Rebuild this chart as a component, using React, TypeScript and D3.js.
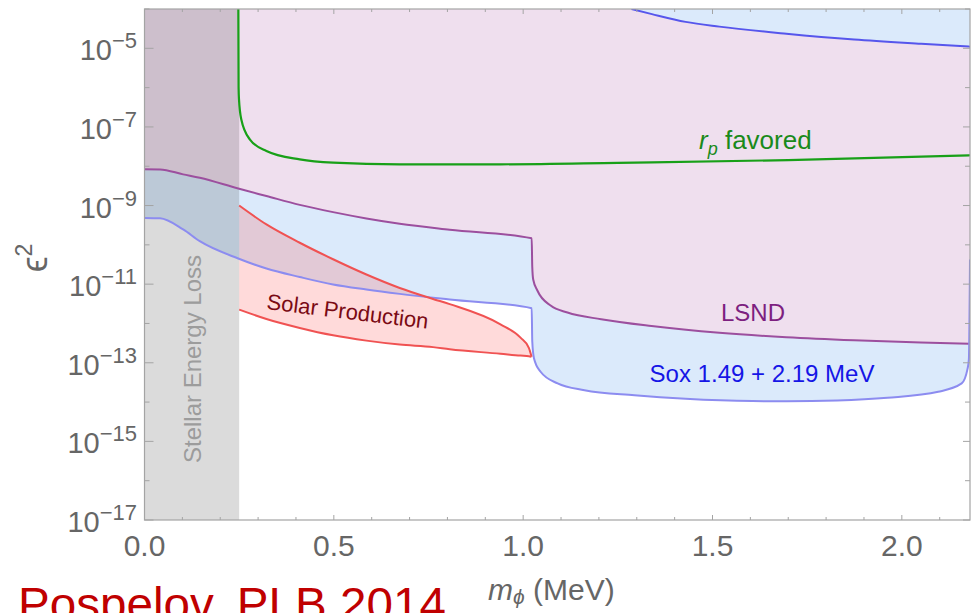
import React from "react";
import * as d3 from "d3";

// ---- data (m in MeV, eps^2) ----
const lsndMass = [0, 0.041, 0.102, 0.146, 0.2475, 0.322, 0.41, 0.498, 0.586, 0.674, 0.806, 1.0225, 1.024, 1.0265, 1.0375, 1.0725, 1.117, 1.206, 1.339, 1.518, 1.695, 1.874, 2.05, 2.18];
const lsndEps2 = [8.35e-9, 8.3e-9, 6.2e-9, 5.1e-9, 2.7e-9, 1.74e-9, 1.04e-9, 6.8e-10, 4.7e-10, 3.45e-10, 2.43e-10, 1.47e-10, 2.75e-11, 1.31e-11, 6.9e-12, 2.85e-12, 1.9e-12, 1.28e-12, 8.6e-13, 5.8e-13, 4.47e-13, 3.74e-13, 3.3e-13, 3.06e-13];

const soxMass = [0, 0.041, 0.102, 0.146, 0.2475, 0.322, 0.41, 0.498, 0.586, 0.674, 0.806, 1.0225, 1.024, 1.0285, 1.046, 1.091, 1.162, 1.294, 1.429, 1.606, 1.695, 1.829, 1.962, 2.096, 2.158, 2.173, 2.177, 2.18];
const soxEps2 = [4.85e-10, 4.75e-10, 2.47e-10, 1.24e-10, 4.5e-11, 2.5e-11, 1.52e-11, 9.8e-12, 7.3e-12, 5.66e-12, 4.06e-12, 2.45e-12, 3.53e-13, 1.31e-13, 5.9e-14, 2.98e-14, 2.0e-14, 1.49e-14, 1.21e-14, 1.06e-14, 1.05e-14, 1.1e-14, 1.29e-14, 1.83e-14, 2.98e-14, 6.7e-14, 1.2e-13, 4.25e-11];

const soxUpperMass = [1.286, 1.34, 1.429, 1.518, 1.695, 1.874, 2.051, 2.18];
const soxUpperEps2 = [1.0e-4, 7.4e-5, 4.7e-5, 3.56e-5, 2.35e-5, 1.67e-5, 1.3e-5, 1.1e-5];

const rpMass = [0.2478, 0.2485, 0.2495, 0.2555, 0.278, 0.322, 0.41, 0.498, 0.674, 0.94, 1.25, 1.7, 2.18];
const rpEps2 = [1.0e-4, 1.0e-6, 5.1e-7, 1.57e-7, 4.85e-8, 2.44e-8, 1.5e-8, 1.24e-8, 1.12e-8, 1.12e-8, 1.22e-8, 1.43e-8, 1.9e-8];

const solarMass = [0.25, 0.322, 0.41, 0.498, 0.586, 0.674, 0.762, 0.806, 0.94, 0.993, 1.015, 1.022];
const solarUpper = [1.0e-9, 3.3e-10, 1.13e-10, 4.3e-11, 1.76e-11, 8.0e-12, 4.2e-12, 3.1e-12, 9.5e-13, 4.35e-13, 2.4e-13, 1.45e-13];
const solarLower = [2.25e-12, 1.3e-12, 7.7e-13, 5.0e-13, 3.66e-13, 2.9e-13, 2.5e-13, 2.2e-13, 1.7e-13, 1.52e-13, 1.47e-13, 1.42e-13];

const stellarLimit = 0.25;

const xMajor = [0, 0.5, 1.0, 1.5, 2.0];
const xMinor = [0.1, 0.2, 0.3, 0.4, 0.6, 0.7, 0.8, 0.9, 1.1, 1.2, 1.3, 1.4, 1.6, 1.7, 1.8, 1.9, 2.1];
const yLabelExp = [-17, -15, -13, -11, -9, -7, -5];
const yMinorExp = [-16, -14, -12, -10, -8, -6, -4];

const W = 976;
const H = 613;
const FONT = "'Liberation Sans', Arial, Helvetica, sans-serif";

const x = d3.scaleLinear().domain([0, 2.18]).range([144.5, 970]);
const y = d3.scaleLog().domain([1e-17, 1e-4]).range([520, 9]);

const zip = (m: number[], v: number[]) => m.map((d, i) => [d, v[i]] as [number, number]);

const line = d3
  .line<[number, number]>()
  .x((d) => x(d[0]))
  .y((d) => y(d[1]))
  .curve(d3.curveMonotoneX);

const areaToTop = d3
  .area<[number, number]>()
  .x((d) => x(d[0]))
  .y0((d) => y(d[1]))
  .y1(() => y(1e-4) - 2)
  .curve(d3.curveMonotoneX);

const solarArea = d3
  .area<number>()
  .x((d) => x(d))
  .y0((_, i) => y(solarLower[i]))
  .y1((_, i) => y(solarUpper[i]))
  .curve(d3.curveMonotoneX);

const App = () => {
  const [x0, x1] = x.range();
  const [yb, yt] = y.range();
  const lsnd = zip(lsndMass, lsndEps2);
  const sox = zip(soxMass, soxEps2);
  const soxUp = zip(soxUpperMass, soxUpperEps2);
  const rp = zip(rpMass, rpEps2);
  const frame = "#a4a4a4";
  const tickText = "#666666";

  return (
    <svg width={W} height={H} style={{ position: "absolute", left: 0, top: 0 }} fontFamily={FONT}>
      <defs>
        <clipPath id="plot">
          <rect x={x0} y={yt} width={x1 - x0} height={yb - yt} />
        </clipPath>
      </defs>
      <rect width={W} height={H} fill="#fff" />

      <g clipPath="url(#plot)">
        <path d={areaToTop(sox) || ""} fill="#dbeafb" />
        <path d={areaToTop(lsnd) || ""} fill="#efdfee" />
        <path d={areaToTop(soxUp) || ""} fill="#dbeafb" />
        <path d={solarArea(solarMass) || ""} fill="#ff4444" fillOpacity={0.2} />
        <rect x={x(0)} y={yt} width={x(stellarLimit) - x(0)} height={yb - yt} fill="#000" fillOpacity={0.14} />

        <path d={line(lsnd) || ""} fill="none" stroke="#9c4f9e" strokeWidth={2} />
        <path d={line(sox) || ""} fill="none" stroke="#8c8cf0" strokeWidth={2} />
        <path d={line(soxUp) || ""} fill="none" stroke="#5656ec" strokeWidth={2} />
        <path d={line(rp) || ""} fill="none" stroke="#18a018" strokeWidth={2.2} />
        <path d={line(zip(solarMass, solarUpper)) || ""} fill="none" stroke="#f05252" strokeWidth={2} />
        <path d={line(zip(solarMass, solarLower)) || ""} fill="none" stroke="#f05252" strokeWidth={2} />
        <line x1={x(1.022)} x2={x(1.022)} y1={y(1.45e-13)} y2={y(1.42e-13)} stroke="#f05252" strokeWidth={2} />
      </g>

      {/* frame */}
      <rect x={x0} y={yt} width={x1 - x0} height={yb - yt} fill="none" stroke={frame} strokeWidth={1.2} />

      {/* x ticks */}
      {xMajor.map((t) => (
        <g key={"xM" + t}>
          <line x1={x(t)} x2={x(t)} y1={yb} y2={yb - 5} stroke={frame} />
          <line x1={x(t)} x2={x(t)} y1={yt} y2={yt + 5} stroke={frame} />
          <text x={x(t)} y={556} textAnchor="middle" fontSize={30} fill={tickText}>
            {t.toFixed(1)}
          </text>
        </g>
      ))}
      {xMinor.map((t) => (
        <g key={"xm" + t}>
          <line x1={x(t)} x2={x(t)} y1={yb} y2={yb - 3} stroke={frame} />
          <line x1={x(t)} x2={x(t)} y1={yt} y2={yt + 3} stroke={frame} />
        </g>
      ))}

      {/* y ticks */}
      {yLabelExp.map((e) => (
        <g key={"yM" + e}>
          <line x1={x0} x2={x0 + 9} y1={y(10 ** e)} y2={y(10 ** e)} stroke={frame} />
          <line x1={x1} x2={x1 - 7} y1={y(10 ** e)} y2={y(10 ** e)} stroke={frame} />
          <text x={137} y={y(10 ** e) + 12} textAnchor="end" fill={tickText} fontSize={29}>
            10
            <tspan fontSize={22} dy={-12}>
              {"\u2212" + Math.abs(e)}
            </tspan>
          </text>
        </g>
      ))}
      {yMinorExp.map((e) => (
        <g key={"ym" + e}>
          <line x1={x0} x2={x0 + 5} y1={y(10 ** e)} y2={y(10 ** e)} stroke={frame} />
          <line x1={x1} x2={x1 - 5} y1={y(10 ** e)} y2={y(10 ** e)} stroke={frame} />
        </g>
      ))}

      {/* axis labels */}
      <text transform="translate(47,258) rotate(-90)" textAnchor="middle" fill={tickText} fontSize={36}>
        {"\u03f5"}
        <tspan fontSize={23} dy={-15}>2</tspan>
      </text>
      <text x={488} y={600} fill={tickText} fontSize={30}>
        <tspan fontStyle="italic">m</tspan>
        <tspan fontStyle="italic" fontSize={21} dy={4}>{"\u03d5"}</tspan>
        <tspan dy={-4}> (MeV)</tspan>
      </text>

      {/* region labels */}
      <text x={699} y={149} fill="#1a8a1a" fontSize={26}>
        <tspan fontStyle="italic">r</tspan>
        <tspan fontStyle="italic" fontSize={18} dy={6}>p</tspan>
        <tspan dy={-6}> favored</tspan>
      </text>
      <text x={753} y={321} textAnchor="middle" fill="#7d1f80" fontSize={24}>
        LSND
      </text>
      <text x={762} y={382} textAnchor="middle" fill="#1515e6" fontSize={24}>
        Sox 1.49 + 2.19 MeV
      </text>
      <text transform="translate(266,309) rotate(7)" fill="#7a0a14" fontSize={22}>
        Solar Production
      </text>
      <text transform="translate(201,359) rotate(-90)" textAnchor="middle" fill="#9c9c9c" fontSize={24}>
        Stellar Energy Loss
      </text>

      <text x={18} y={620} fill="#c00000" fontSize={47} textLength={428} lengthAdjust="spacingAndGlyphs">
        Pospelov, PLB 2014
      </text>
    </svg>
  );
};

export default App;
